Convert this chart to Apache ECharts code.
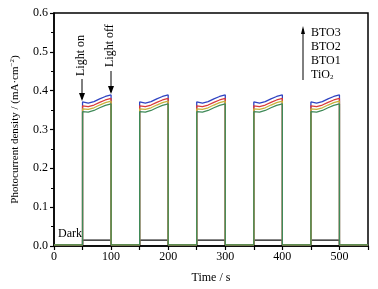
<!DOCTYPE html>
<html>
<head>
<meta charset="utf-8">
<script src="https://cdn.jsdelivr.net/npm/echarts@6/dist/echarts.min.js"></script>
<style>
  html, body { margin: 0; padding: 0; background: #fff; }
  #chart { width: 378px; height: 289px; }
</style>
</head>
<body>
<div id="chart"></div>
<script>
// light on / off switching times (s)
const lightOn = [50, 150, 250, 350, 450];
const lightOff = [100, 200, 300, 400, 500];
const timeEnd = 550;

// offsets (s) after light on where the photocurrent was read
const pulseOffsets = [0, 3, 10, 20, 30, 40, 50];

// photocurrent during illumination (mA cm^-2), same for each pulse
const tio2Pulse = [0.346, 0.345, 0.345, 0.349, 0.356, 0.362, 0.366];
const bto1Pulse = [0.353, 0.352, 0.352, 0.356, 0.363, 0.369, 0.373];
const bto2Pulse = [0.361, 0.359, 0.359, 0.363, 0.370, 0.376, 0.380];
const bto3Pulse = [0.371, 0.369, 0.368, 0.372, 0.379, 0.385, 0.389];
const darkPulse = [0.015, 0.015, 0.015, 0.015, 0.015, 0.015, 0.015];

// current with light off
const offLevel = 0.003;

const yTicks = ["0.0", "0.1", "0.2", "0.3", "0.4", "0.5", "0.6"];

// build the stepped on/off curve for one sample
function buildCurve(pulse) {
  const pts = [[0, offLevel]];
  lightOn.forEach((t0, i) => {
    pts.push([t0, offLevel]);
    pulseOffsets.forEach((dt, k) => pts.push([t0 + dt, pulse[k]]));
    pts.push([lightOff[i], offLevel]);
  });
  pts.push([timeEnd, offLevel]);
  return pts;
}

const serif = "Liberation Serif";
const chart = echarts.init(document.getElementById("chart"));

const lineSeries = (name, pulse, color) => ({
  name: name,
  type: "line",
  data: buildCurve(pulse),
  showSymbol: false,
  smooth: false,
  lineStyle: { color: color, width: 1.3 },
  itemStyle: { color: color },
  animation: false,
});

chart.setOption({
  animation: false,
  grid: {
    left: 54,
    right: 10,
    top: 13,
    bottom: 41,
    show: true,
    borderColor: "#000",
    borderWidth: 1.5,
  },
  xAxis: {
    type: "value",
    min: 0,
    max: timeEnd,
    interval: 50,
    name: "Time / s",
    nameLocation: "middle",
    nameGap: 26,
    nameTextStyle: { fontFamily: serif, fontSize: 12, color: "#000" },
    axisLine: { onZero: false, lineStyle: { color: "#000", width: 1.5 } },
    axisTick: { inside: false, length: 4, lineStyle: { color: "#000", width: 1.2 } },
    axisLabel: {
      fontFamily: serif,
      fontSize: 12,
      color: "#000",
      margin: 5,
      formatter: (v) => (v % 100 === 0 ? String(v) : ""),
    },
    splitLine: { show: false },
  },
  yAxis: {
    type: "value",
    min: 0,
    max: 0.6,
    interval: 0.1,
    name: "Photocurrent density / (mA·cm{sup|−2})",
    nameLocation: "middle",
    nameGap: 32,
    nameTextStyle: {
      fontFamily: serif,
      fontSize: 11,
      color: "#000",
      rich: { sup: { fontFamily: serif, fontSize: 7, color: "#000", padding: [0, 0, 6, 0] } },
    },
    axisLine: { lineStyle: { color: "#000", width: 1.5 } },
    axisTick: { length: 4, lineStyle: { color: "#000", width: 1.2 } },
    minorTick: { show: true, splitNumber: 2, length: 3, lineStyle: { color: "#000", width: 1 } },
    axisLabel: {
      fontFamily: serif,
      fontSize: 12,
      color: "#000",
      margin: 6,
      formatter: (v) => yTicks[Math.round(v * 10)],
    },
    splitLine: { show: false },
  },
  series: [
    lineSeries("Dark", darkPulse, "#111111"),
    lineSeries("BTO3", bto3Pulse, "#2f43c2"),
    lineSeries("BTO2", bto2Pulse, "#d93a3a"),
    lineSeries("BTO1", bto1Pulse, "#c9b23a"),
    lineSeries("TiO2", tio2Pulse, "#3f8a58"),
  ],
  graphic: [
    // Light on
    { type: "text", x: 75, y: 76, rotation: Math.PI / 2,
      style: { text: "Light on", font: "12px " + serif, fill: "#000" } },
    { type: "line", shape: { x1: 82, y1: 79, x2: 82, y2: 99 }, style: { stroke: "#000", lineWidth: 1 } },
    { type: "polygon", shape: { points: [[79, 93], [85, 93], [82, 101]] }, style: { fill: "#000" } },
    // Light off
    { type: "text", x: 104, y: 67, rotation: Math.PI / 2,
      style: { text: "Light off", font: "12px " + serif, fill: "#000" } },
    { type: "line", shape: { x1: 111, y1: 71, x2: 111, y2: 92 }, style: { stroke: "#000", lineWidth: 1 } },
    { type: "polygon", shape: { points: [[108, 86], [114, 86], [111, 94]] }, style: { fill: "#000" } },
    // sample order arrow
    { type: "line", shape: { x1: 303, y1: 80, x2: 303, y2: 29 }, style: { stroke: "#000", lineWidth: 1 } },
    { type: "polygon", shape: { points: [[301, 34], [305, 34], [303, 26]] }, style: { fill: "#000" } },
    { type: "text", x: 311, y: 27, style: { text: "BTO3", font: "12px " + serif, fill: "#000" } },
    { type: "text", x: 311, y: 41, style: { text: "BTO2", font: "12px " + serif, fill: "#000" } },
    { type: "text", x: 311, y: 55, style: { text: "BTO1", font: "12px " + serif, fill: "#000" } },
    { type: "text", x: 311, y: 68,
      style: {
        text: "TiO{sub|2}",
        font: "12px " + serif,
        fill: "#000",
        rich: { sub: { fontFamily: serif, fontSize: 7, fill: "#000", padding: [6, 0, 0, 0] } },
      } },
    // Dark label
    { type: "text", x: 58, y: 228, style: { text: "Dark", font: "12px " + serif, fill: "#000" } },
  ],
});
</script>
</body>
</html>
